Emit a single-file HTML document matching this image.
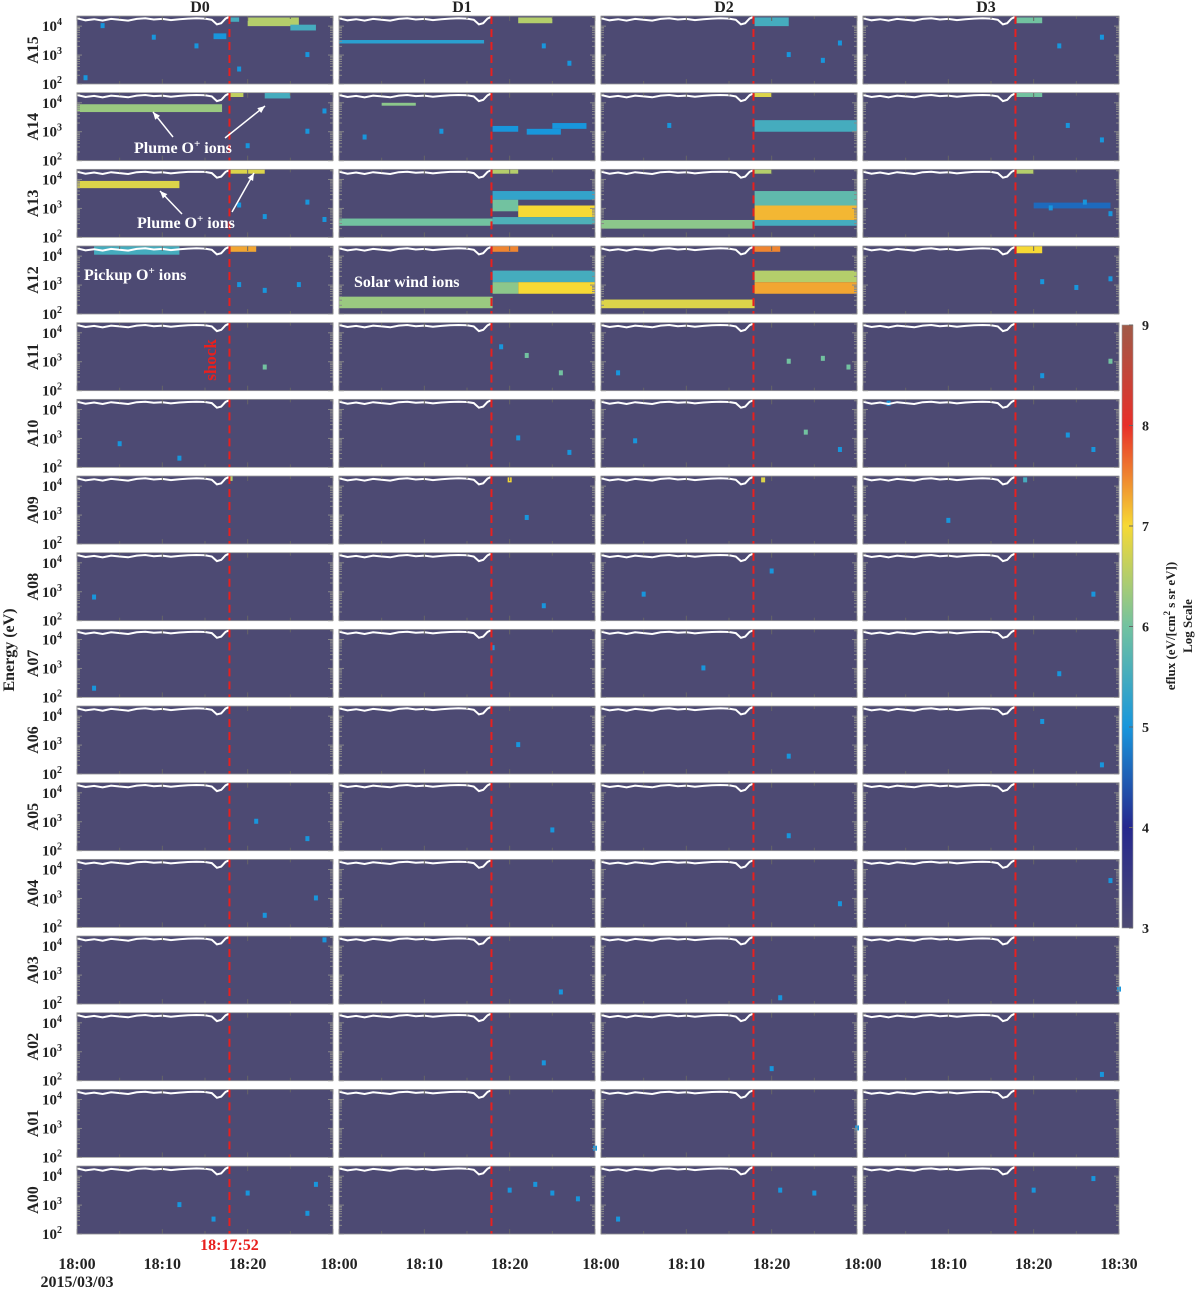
<!DOCTYPE html>
<html><head><meta charset="utf-8"><style>
body{margin:0;background:#fff}
svg text{font-family:"Liberation Serif",serif;font-weight:bold;fill:#222}
</style></head><body>
<svg id="fig" width="1200" height="1292" viewBox="0 0 1200 1292" xmlns="http://www.w3.org/2000/svg">
<defs>
<linearGradient id="cbg" x1="0" y1="1" x2="0" y2="0">
<stop offset="0" stop-color="#4d4a73"/><stop offset="0.167" stop-color="#26288e"/>
<stop offset="0.333" stop-color="#1896dc"/><stop offset="0.5" stop-color="#72c2a0"/>
<stop offset="0.667" stop-color="#f6d935"/><stop offset="0.833" stop-color="#e8302a"/>
<stop offset="1" stop-color="#a05a48"/></linearGradient>
</defs>
<g id="panels"></g>
<g id="annot"></g>
</svg>
<script>
const rows=['A15','A14','A13','A12','A11','A10','A09','A08','A07','A06','A05','A04','A03','A02','A01','A00'];
const cols=['D0','D1','D2','D3'];
const xTicks=['18:00','18:10','18:20','18:30'];
const cbTicks=[3,4,5,6,7,8,9];
// bands: [row, col, t0(min), t1(min), logE0, logE1, level]
const bands=[
['A15','D0',20,26,4.0,4.3,6.5],['A15','D0',25,28,3.85,4.05,5.5],['A15','D0',16,17.5,3.55,3.75,5],['A15','D0',18,19,4.15,4.3,5.5],
['A15','D1',0,17,3.4,3.52,5.2],['A15','D1',21,25,4.1,4.3,6.5],
['A15','D2',18,22,4.0,4.3,5.5],['A15','D3',18,21,4.1,4.3,6],
['A14','D0',0,17,3.68,3.95,6.3],['A14','D0',18,19.5,4.2,4.35,6.6],['A14','D0',22,25,4.15,4.35,5.5],
['A14','D1',18,21,3.0,3.2,5.0],['A14','D1',22,26,2.9,3.1,5.0],['A14','D1',25,29,3.1,3.3,5.0],['A14','D1',5,9,3.9,4.0,6.2],
['A14','D2',18,30,3.0,3.4,5.5],['A14','D2',18,20,4.2,4.35,6.8],['A14','D3',18,21,4.2,4.35,6],
['A13','D0',0,12,3.7,3.95,6.8],['A13','D0',18,22,4.2,4.35,6.8],
['A13','D1',0,18,2.4,2.65,6],['A13','D1',18,30,3.3,3.6,5.3],['A13','D1',18,21,2.9,3.3,6],
['A13','D1',21,30,2.7,3.1,7],['A13','D1',18,30,2.45,2.7,5.6],['A13','D1',18,21,4.2,4.35,6.5],
['A13','D2',0,18,2.3,2.6,6.2],['A13','D2',18,30,3.1,3.6,5.8],['A13','D2',18,30,2.6,3.1,7.2],
['A13','D2',18,30,2.4,2.6,5.5],['A13','D2',18,20,4.2,4.35,6.5],
['A13','D3',18,20,4.2,4.35,6.5],['A13','D3',20,29,3.0,3.2,4.6],
['A12','D0',2,12,4.05,4.35,5.5],['A12','D0',18,21,4.15,4.35,7.3],
['A12','D1',0,18,2.2,2.6,6.3],['A12','D1',18,30,3.1,3.5,5.5],['A12','D1',21,30,2.7,3.1,7],
['A12','D1',18,21,2.7,3.1,6.2],['A12','D1',18,21,4.15,4.35,7.5],
['A12','D2',0,18,2.2,2.5,6.8],['A12','D2',18,30,3.1,3.5,6.5],['A12','D2',18,30,2.7,3.1,7.3],
['A12','D2',18,21,4.15,4.35,7.5],['A12','D3',18,21,4.1,4.35,7]
];
// spots: [row, col, t(min), logE, level]
const spots=[
['A15','D0',3,4.0,5],['A15','D0',9,3.6,5],['A15','D0',14,3.3,5],['A15','D0',1,2.2,5],['A15','D0',19,2.5,5],['A15','D0',27,3.0,5],
['A15','D1',24,3.3,5],['A15','D1',27,2.7,5],['A15','D2',22,3.0,5],['A15','D2',26,2.8,5],['A15','D2',28,3.4,5],['A15','D3',23,3.3,5],['A15','D3',28,3.6,5],
['A14','D0',20,2.5,5],['A14','D0',27,3.0,5],['A14','D0',29,3.7,5],['A14','D1',12,3.0,5],['A14','D1',3,2.8,5],['A14','D2',8,3.2,5],['A14','D3',24,3.2,5],['A14','D3',28,2.7,5],
['A13','D0',19,3.1,5],['A13','D0',22,2.7,5],['A13','D0',27,3.2,5],['A13','D0',29,2.6,5],['A13','D3',22,3.0,5],['A13','D3',26,3.2,5],['A13','D3',29,2.8,5],
['A12','D0',19,3.0,5],['A12','D0',22,2.8,5],['A12','D0',26,3.0,5],['A12','D3',21,3.1,5],['A12','D3',25,2.9,5],['A12','D3',29,3.2,5],
['A11','D0',22,2.8,6],['A11','D1',22,3.2,6],['A11','D1',26,2.6,6],['A11','D1',19,3.5,5],['A11','D2',2,2.6,5],['A11','D2',22,3.0,6],['A11','D2',26,3.1,6],['A11','D2',29,2.8,6],['A11','D3',29,3.0,6],['A11','D3',21,2.5,5],
['A10','D0',5,2.8,5],['A10','D0',12,2.3,5],['A10','D1',21,3.0,5],['A10','D1',27,2.5,5],['A10','D2',4,2.9,5],['A10','D2',24,3.2,6],['A10','D2',28,2.6,5],['A10','D3',3,4.2,5],['A10','D3',24,3.1,5],['A10','D3',27,2.6,5],
['A09','D0',18,4.25,6.5],['A09','D1',20,4.2,7],['A09','D1',22,2.9,5],['A09','D2',19,4.2,6.8],['A09','D3',19,4.2,5.5],['A09','D3',10,2.8,5],
['A08','D0',2,2.8,5],['A08','D1',24,2.5,5],['A08','D2',20,3.7,5],['A08','D2',5,2.9,5],['A08','D3',27,2.9,5],
['A07','D0',2,2.3,5],['A07','D1',18,3.7,5],['A07','D2',12,3.0,5],['A07','D3',23,2.8,5],
['A06','D1',21,3.0,5],['A06','D2',22,2.6,5],['A06','D3',21,3.8,5],['A06','D3',28,2.3,5],
['A05','D0',21,3.0,5],['A05','D0',27,2.4,5],['A05','D1',25,2.7,5],['A05','D2',22,2.5,5],
['A04','D0',22,2.4,5],['A04','D0',28,3.0,5],['A04','D2',28,2.8,5],['A04','D3',29,3.6,5],
['A03','D0',29,4.2,5],['A03','D1',26,2.4,5],['A03','D2',21,2.2,5],['A03','D3',30,2.5,5],
['A02','D1',24,2.6,5],['A02','D2',20,2.4,5],['A02','D3',28,2.2,5],
['A01','D1',30,2.3,5],['A01','D2',30,3.0,5],
['A00','D0',12,3.0,5],['A00','D0',16,2.5,5],['A00','D0',20,3.4,5],['A00','D0',27,2.7,5],['A00','D0',28,3.7,5],['A00','D1',20,3.5,5],['A00','D1',23,3.7,5],['A00','D1',25,3.4,5],['A00','D1',28,3.2,5],['A00','D2',21,3.5,5],['A00','D2',25,3.4,5],['A00','D2',2,2.5,5],['A00','D3',20,3.5,5],['A00','D3',27,3.9,5]
];
// white line trace (log E) vs time (min)
const lineT=[0,1,2,3,4,5,6,7,8,9,10,11,12,13,14,15,15.8,16.4,16.9,17.4,17.9];
const lineE=[4.27,4.2,4.24,4.19,4.25,4.22,4.19,4.25,4.27,4.23,4.25,4.21,4.24,4.26,4.27,4.26,4.22,4.06,4.1,4.26,4.33];
const shockT=17+52/60;

const X0=[77,339,601,863], W=256, Y0=16, PITCH=76.67, H=68, EMIN=2, EMAX=4.35;
const NS='http://www.w3.org/2000/svg';
const P=document.getElementById('panels'), A=document.getElementById('annot');
function mk(tag,at,par){const e=document.createElementNS(NS,tag);for(const k in at)e.setAttribute(k,at[k]);(par||P).appendChild(e);return e;}
function xs(ci,t){return X0[ci]+t/30*W;}
function ys(ri,e){return Y0+ri*PITCH+(EMAX-e)/(EMAX-EMIN)*H;}
const stops=[[3,[77,74,115]],[4,[38,40,142]],[5,[24,150,220]],[6,[114,194,160]],[7,[246,217,53]],[8,[232,48,42]],[9,[160,90,72]]];
function col(l){for(let i=0;i<stops.length-1;i++){const a=stops[i],b=stops[i+1];if(l<=b[0]){const f=(l-a[0]);return 'rgb('+a[1].map((v,j)=>Math.round(v+(b[1][j]-v)*f)).join(',')+')';}}return 'rgb(160,90,72)';}

rows.forEach((r,ri)=>{
  const yt=Y0+ri*PITCH;
  const lab=mk('text',{x:38,y:yt+H/2,'font-size':16,'text-anchor':'middle',transform:`rotate(-90 38 ${yt+H/2})`});
  
  
  lab.textContent=r;
  [[4,'4'],[3,'3'],[2,'2']].forEach(([e,s])=>{
    const yy=ys(ri,e);
    const t=mk('text',{x:62,y:yy+5,'font-size':15,'text-anchor':'end'});
    
    
    t.innerHTML='10<tspan dy="-6" font-size="10">'+s+'</tspan>';
  });
  cols.forEach((c,ci)=>{
    const g=mk('g',{});
    
    
    mk('rect',{x:X0[ci],y:yt,width:W,height:H,fill:'#4d4a73'},g);
    bands.filter(b=>b[0]===r&&b[1]===c).forEach(b=>{
      const rc=mk('rect',{x:xs(ci,b[2]),y:ys(ri,b[5]),width:xs(ci,b[3])-xs(ci,b[2]),height:ys(ri,b[4])-ys(ri,b[5]),fill:col(b[6])},g);
      
      
    });
    spots.filter(s=>s[0]===r&&s[1]===c).forEach(s=>{
      const rc=mk('rect',{x:xs(ci,s[2])-2,y:ys(ri,s[3])-3,width:4,height:5,fill:col(s[4])},g);
      
      
    });
    const d=lineT.map((t,i)=>(i?'L':'M')+xs(ci,t).toFixed(1)+' '+ys(ri,lineE[i]).toFixed(1)).join(' ');
    const pl=mk('path',{d:d,fill:'none',stroke:'#fff','stroke-width':2},g);
    
    
    const sx=xs(ci,shockT);
    const sl=mk('line',{x1:sx,x2:sx,y1:yt,y2:yt+H,stroke:'#e8201e','stroke-width':2,'stroke-dasharray':'8 5'},g);
    
    
    for(let m=0;m<=30;m+=5){const xx=xs(ci,m);mk('line',{x1:xx,x2:xx,y1:yt,y2:yt+(m%10?3:5),stroke:'#666'},g);mk('line',{x1:xx,x2:xx,y1:yt+H,y2:yt+H-(m%10?3:5),stroke:'#666'},g);}
    [2,3,4].forEach(e=>{for(let k=1;k<10;k++){const ev=e+Math.log10(k);if(ev>EMAX)break;const yy=ys(ri,ev);const len=k===1?5:3;mk('line',{x1:X0[ci],x2:X0[ci]+len,y1:yy,y2:yy,stroke:'#888'},g);mk('line',{x1:X0[ci]+W,x2:X0[ci]+W-len,y1:yy,y2:yy,stroke:'#888'},g);}});
    mk('rect',{x:X0[ci],y:yt,width:W,height:H,fill:'none',stroke:'#999','stroke-width':0.8},g);
  });
});
cols.forEach((c,ci)=>{
  const t=mk('text',{x:X0[ci]+W/2-5,y:12,'font-size':16,'text-anchor':'middle'});
  
  
  t.textContent=c;
  const n=ci===3?4:3;
  for(let i=0;i<n;i++){const tt=mk('text',{x:xs(ci,i*10),y:1269,'font-size':16,'text-anchor':'middle'});
    
    
    tt.textContent=xTicks[i];}
});
function txt(x,y,s,at,name,par){const t=mk('text',Object.assign({x:x,y:y},at),par||A);t.innerHTML=s;return t;}
txt(77,1287,'2015/03/03',{'font-size':16,'text-anchor':'middle'},'date-label');
txt(xs(0,shockT),1250,'18:17:52',{'font-size':16,'text-anchor':'middle',style:'fill:#e8201e'},'shock-time-label');
txt(216,360,'shock',{'font-size':17,'text-anchor':'middle',transform:'rotate(-90 216 360)',style:'fill:#e8201e'},'shock-label');
txt(14,650,'Energy (eV)',{'font-size':16,'text-anchor':'middle',transform:'rotate(-90 14 650)'},'y-axis-title');
txt(134,153,'Plume O<tspan dy="-6" font-size="11">+</tspan><tspan dy="6"> ions</tspan>',{'font-size':16,style:'fill:#fff'},'annotation-plume-a14');
txt(137,228,'Plume O<tspan dy="-6" font-size="11">+</tspan><tspan dy="6"> ions</tspan>',{'font-size':16,style:'fill:#fff'},'annotation-plume-a13');
txt(84,280,'Pickup O<tspan dy="-6" font-size="11">+</tspan><tspan dy="6"> ions</tspan>',{'font-size':16,style:'fill:#fff'},'annotation-pickup-a12');
txt(354,287,'Solar wind ions',{'font-size':16,style:'fill:#fff'},'annotation-solar-wind');
function arrow(x1,y1,x2,y2){const g=mk('g',{},A);
  mk('line',{x1:x1,y1:y1,x2:x2,y2:y2,stroke:'#fff','stroke-width':1.5},g);
  const a=Math.atan2(y2-y1,x2-x1),L=8;
  const p=[[x2,y2],[x2-L*Math.cos(a-0.4),y2-L*Math.sin(a-0.4)],[x2-L*Math.cos(a+0.4),y2-L*Math.sin(a+0.4)]];
  mk('polygon',{points:p.map(q=>q.join(',')).join(' '),fill:'#fff'},g);}
arrow(173,137,153,112);arrow(225,138,265,106);arrow(182,214,160,191);arrow(232,212,254,173);
// colorbar
const cb=mk('g',{},A);
const CB0=325,CB1=928;
mk('rect',{x:1122,y:CB0,width:11,height:CB1-CB0,fill:'url(#cbg)',stroke:'#999','stroke-width':0.6},cb);
cbTicks.forEach(v=>{const yy=CB1-(v-3)/6*(CB1-CB0);mk('line',{x1:1133,x2:1129,y1:yy,y2:yy,stroke:'#666'},cb);
  const t=mk('text',{x:1142,y:yy+5,'font-size':14},cb);t.textContent=v;});
txt(1175,626,'eflux (eV/[cm<tspan dy="-5" font-size="9">2</tspan><tspan dy="5"> s sr eV])</tspan>',{'font-size':13,'text-anchor':'middle',transform:'rotate(-90 1175 626)'},'colorbar-title');
txt(1192,626,'Log Scale',{'font-size':13,'text-anchor':'middle',transform:'rotate(-90 1192 626)'},'colorbar-subtitle');
</script>
</body></html>
